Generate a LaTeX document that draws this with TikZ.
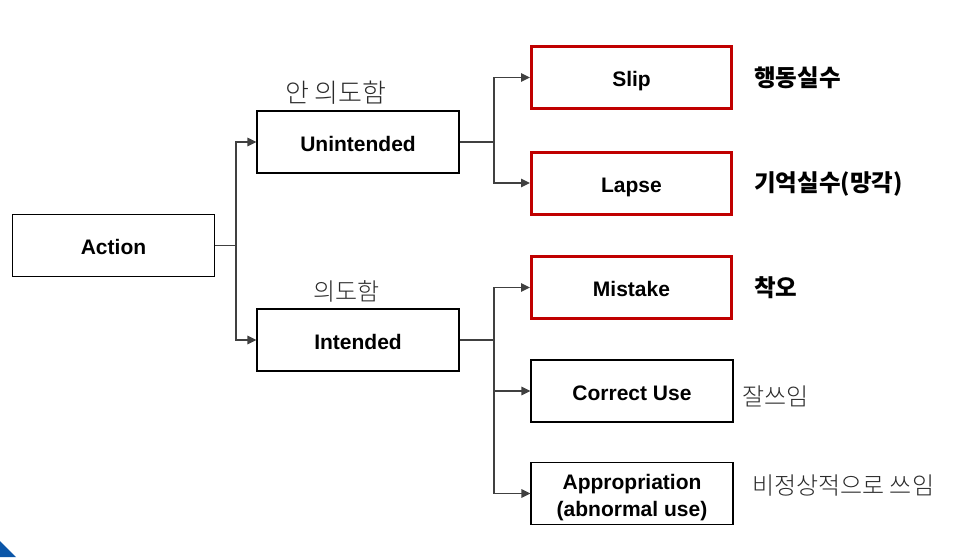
\documentclass[tikz,border=0pt]{standalone}
\usepackage{fontspec}
\setmainfont{Liberation Sans}
\newfontfamily\kr{Noto Sans CJK KR}
\newfontfamily\krlight{Noto Sans CJK KR Light}
\usetikzlibrary{arrows.meta}
\definecolor{boxred}{HTML}{C00000}
\definecolor{cornerblue}{HTML}{0B56A8}
\definecolor{hand}{HTML}{2A2A2A}
\begin{document}
\begin{tikzpicture}[x=1pt,y=-1pt,
  box/.style={draw=black,line width=1.1pt,minimum width=202pt,minimum height=62pt,inner sep=0pt,text height=20pt,text depth=2pt,font=\fontsize{21}{27}\selectfont\bfseries,align=center},
  redbox/.style={box,draw=boxred,line width=3pt,minimum width=200pt,minimum height=62pt},
  conn/.style={draw=black!75,line width=1.3pt},
  arr/.style={conn,-{Triangle[length=9pt,width=8.5pt]}},
  krlab/.style={anchor=west,inner sep=0pt,font=\kr\fontsize{23.5}{26}\selectfont\bfseries},
  handlab/.style={anchor=west,inner sep=0pt,text=hand,font=\krlight\fontsize{24}{26}\selectfont}]
\useasboundingbox (0,0) rectangle (964,557);
\fill[cornerblue] (0,541) -- (16,557) -- (0,557) -- cycle;

\node[box] (action) at (113.5,245.5) {Action};
\node[box] (unint) at (358,142) {Unintended};
\node[box] (int) at (358,340) {Intended};
\node[redbox] (slip) at (631.5,77.5) {Slip};
\node[redbox] (lapse) at (631.5,183) {Lapse};
\node[redbox] (mistake) at (631.5,287.5) {Mistake};
\node[box] (correct) at (632,391) {Correct Use};
\node[box,text height=47pt,text depth=2pt] (approp) at (632,493.5) {Appropriation\\(abnormal use)};

\coordinate (j1) at (236,245.5);
\coordinate (j2) at (494,142);
\coordinate (j3) at (494,340);

\draw[conn] (action.east) -- (j1);
\draw[arr] (j1) |- (unint.west);
\draw[arr] (j1) |- (int.west);
\draw[conn] (unint.east) -- (j2);
\draw[arr] (j2) |- (slip.west);
\draw[arr] (j2) |- (lapse.west);
\draw[conn] (int.east) -- (j3);
\draw[arr] (j3) |- (mistake.west);
\draw[arr] (j3) |- (correct.west);
\draw[arr] (j3) |- (approp.west);

\node[krlab] (l1) at (754,78) {행동실수};
\node[krlab] (l2) at (754,184) {기억실수(망각)};
\node[krlab] (l3) at (754,288) {착오};
\node[handlab,font=\krlight\fontsize{26}{28}\selectfont] (h1) at (285,93) {안 의도함};
\node[handlab] (h2) at (313,291) {의도함};
\node[handlab] (h3) at (742,396) {잘쓰임};
\node[handlab] (h4) at (752,486) {비정상적으로 쓰임};
\end{tikzpicture}
\end{document}
